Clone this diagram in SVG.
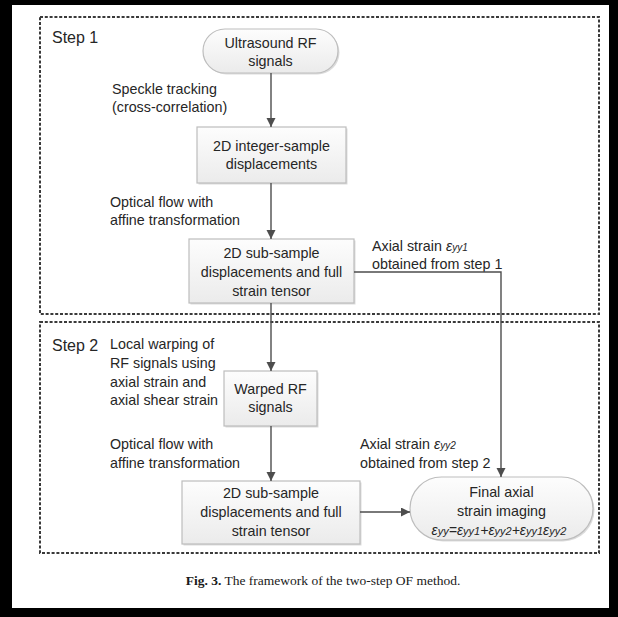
<svg xmlns="http://www.w3.org/2000/svg" width="618" height="617" viewBox="0 0 618 617">
<defs>
<linearGradient id="g" x1="0" y1="0" x2="0" y2="1">
<stop offset="0" stop-color="#fdfdfd"/>
<stop offset="1" stop-color="#ebebeb"/>
</linearGradient>
<marker id="arr" markerUnits="userSpaceOnUse" markerWidth="10" markerHeight="10" refX="9" refY="4.5" orient="auto">
<path d="M0,0 L9,4.5 L0,9 z" fill="#4d4d4d"/>
</marker>
</defs>
<style>
.node{fill:url(#g);stroke:#bdbdbd;stroke-width:1.2}
.sh{fill:#dcdcdc;stroke:none}
.t{font-family:"Liberation Sans",Arial,sans-serif;font-size:14.3px;fill:#262626}
.c{text-anchor:middle}
.step{font-family:"Liberation Sans",Arial,sans-serif;font-size:16px;fill:#262626}
.i{font-style:italic}
.s{font-size:10px;font-style:italic}
.fs{font-size:11px;font-style:italic}
.box{fill:none;stroke:#3a3a3a;stroke-width:2;stroke-dasharray:3 1.8}
.conn path{fill:none;stroke:#4d4d4d;stroke-width:1.4}
.cap{font-family:"Liberation Serif","Times New Roman",serif;font-size:13.5px;fill:#1a1a1a;text-anchor:middle}
</style>
<rect x="0" y="0" width="618" height="617" fill="#000"/>
<rect x="12" y="5" width="597" height="603" fill="#fff"/>

<g id="step1">
<rect class="box" x="40" y="17" width="559" height="297"/>
<text class="step" x="52" y="43">Step 1</text>
</g>
<g id="step2">
<rect class="box" x="40" y="322" width="559" height="231"/>
<text class="step" x="52" y="351">Step 2</text>
</g>

<g id="labels">
<text class="t" x="112" y="94">Speckle tracking</text>
<text class="t" x="112" y="112">(cross-correlation)</text>
<text class="t" x="110" y="207">Optical flow with</text>
<text class="t" x="110" y="225">affine transformation</text>
<text class="t" x="372" y="251">Axial strain <tspan class="i">ε</tspan><tspan class="s">yy1</tspan></text>
<text class="t" x="372" y="269">obtained from step 1</text>
<text class="t" x="110" y="349">Local warping of</text>
<text class="t" x="110" y="368">RF signals using</text>
<text class="t" x="110" y="387">axial strain and</text>
<text class="t" x="110" y="405">axial shear strain</text>
<text class="t" x="110" y="449">Optical flow with</text>
<text class="t" x="110" y="468">affine transformation</text>
<text class="t" x="360" y="449">Axial strain <tspan class="i">ε</tspan><tspan class="s">yy2</tspan></text>
<text class="t" x="360" y="468">obtained from step 2</text>
</g>

<g id="n_rf">
<rect class="sh" x="204.5" y="30.5" width="135" height="44" rx="22"/>
<rect class="node" x="203" y="29" width="135" height="44" rx="22"/>
<text class="t c" x="270.5" y="48">Ultrasound RF</text>
<text class="t c" x="270.5" y="66">signals</text>
</g>
<g id="n_int">
<rect class="sh" x="198.5" y="128.5" width="149" height="56"/>
<rect class="node" x="197" y="127" width="149" height="56"/>
<text class="t c" x="271.5" y="151">2D integer-sample</text>
<text class="t c" x="271.5" y="169">displacements</text>
</g>
<g id="n_sub1">
<rect class="sh" x="190.5" y="240.5" width="165" height="64"/>
<rect class="node" x="189" y="239" width="165" height="64"/>
<text class="t c" x="271.5" y="258">2D sub-sample</text>
<text class="t c" x="271.5" y="277">displacements and full</text>
<text class="t c" x="271.5" y="296">strain tensor</text>
</g>
<g id="n_warp">
<rect class="sh" x="225.5" y="372.5" width="93" height="55"/>
<rect class="node" x="224" y="371" width="93" height="55"/>
<text class="t c" x="270.5" y="394">Warped RF</text>
<text class="t c" x="270.5" y="412">signals</text>
</g>
<g id="n_sub2">
<rect class="sh" x="183.5" y="482.5" width="178" height="63"/>
<rect class="node" x="182" y="481" width="178" height="63"/>
<text class="t c" x="271" y="498">2D sub-sample</text>
<text class="t c" x="271" y="517">displacements and full</text>
<text class="t c" x="271" y="536">strain tensor</text>
</g>
<g id="n_final">
<rect class="sh" x="411.5" y="478.5" width="183" height="63" rx="31.5"/>
<rect class="node" x="410" y="477" width="183" height="63" rx="31.5"/>
<text class="t c" x="501.5" y="497">Final axial</text>
<text class="t c" x="501.5" y="516">strain imaging</text>
<text class="t c i" x="499" y="535" style="font-size:14px">ε<tspan class="fs">yy</tspan>=ε<tspan class="fs">yy1</tspan>+ε<tspan class="fs">yy2</tspan>+ε<tspan class="fs">yy1</tspan>ε<tspan class="fs">yy2</tspan></text>
</g>

<g id="connectors" class="conn">
<path d="M271,73 L271,127" marker-end="url(#arr)"/>
<path d="M271,183 L271,239" marker-end="url(#arr)"/>
<path d="M271,303 L271,371" marker-end="url(#arr)"/>
<path d="M271,426 L271,481" marker-end="url(#arr)"/>
<path d="M354,272 L501,272 L501,477" marker-end="url(#arr)"/>
<path d="M360,512 L410,512" marker-end="url(#arr)"/>
</g>

<text class="cap" x="323" y="585"><tspan font-weight="bold">Fig. 3.</tspan> The framework of the two-step OF method.</text>
</svg>
